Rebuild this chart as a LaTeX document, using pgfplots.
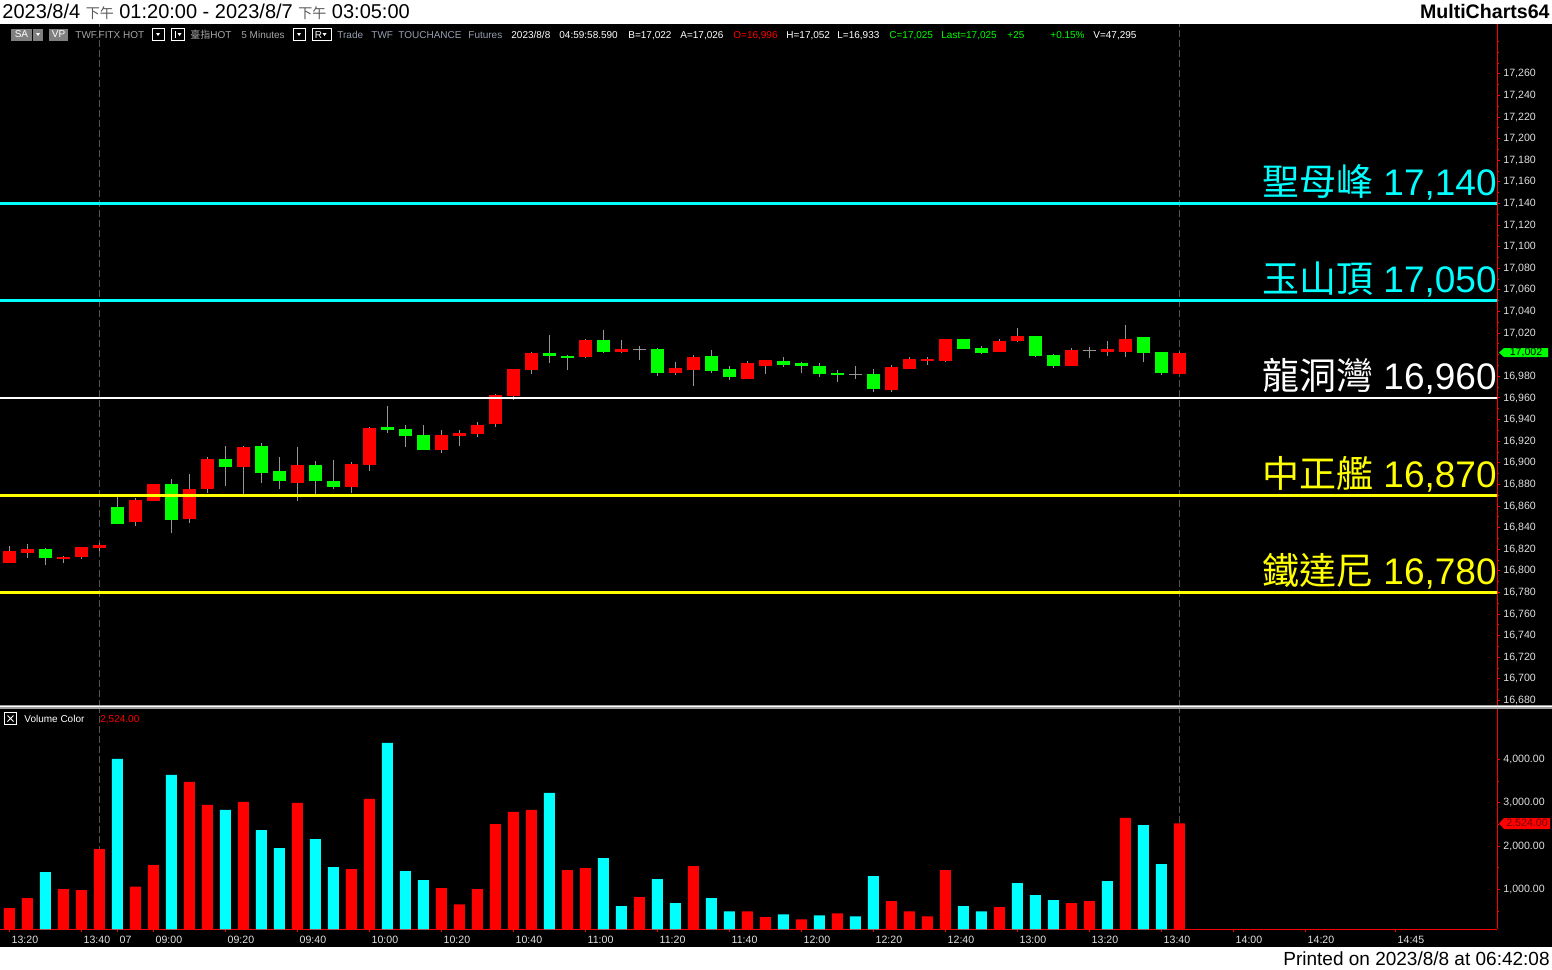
\documentclass[border=0pt]{standalone}
\usepackage{fontspec}
\setmainfont{Liberation Sans}
\newfontfamily\cjk{Noto Sans CJK TC}
\usepackage{pgfplots}
\pgfplotsset{compat=1.18}
\usepackage{pgfplotstable}

\definecolor{upc}{RGB}{255,0,0}
\definecolor{dnc}{RGB}{0,255,0}
\definecolor{vcy}{RGB}{0,255,255}
\definecolor{wick}{RGB}{150,150,150}
\definecolor{lvly}{RGB}{255,255,0}
\definecolor{lbl}{RGB}{225,225,225}
\definecolor{tbgray}{RGB}{165,165,165}
\definecolor{tbblue}{RGB}{150,158,175}
\definecolor{sess}{RGB}{85,85,85}
\definecolor{hdrgray}{RGB}{90,90,90}

% 5-minute candles, x = bar number (0 = 8/4 13:20, 6 = 8/7 08:50)
\pgfplotstableread{
x o h l c
0 16807 16823 16807 16818
1 16817 16825 16812 16820
3 16811 16814 16807 16813
4 16813 16822 16811 16822
5 16821 16826 16818 16824
7 16845 16867 16842 16866
8 16865 16880 16865 16880
10 16848 16890 16844 16876
11 16876 16905 16872 16904
13 16896 16916 16871 16915
16 16881 16915 16865 16898
19 16878 16901 16872 16899
20 16898 16933 16892 16932
24 16912 16930 16909 16926
25 16925 16930 16916 16928
26 16927 16938 16924 16935
27 16936 16964 16933 16963
28 16962 16987 16958 16987
29 16986 17003 16982 17002
32 16998 17015 16997 17014
34 17003 17014 17002 17005
37 16983 16993 16981 16988
38 16986 17000 16971 16998
41 16978 16994 16978 16992
42 16990 16995 16982 16995
49 16967 16991 16966 16989
50 16987 16998 16987 16996
51 16994 16998 16991 16996
52 16994 17015 16993 17015
55 17003 17015 17003 17013
56 17013 17025 17012 17017
59 16990 17006 16990 17004
61 17003 17013 16999 17005
62 17003 17028 16998 17015
65 16982 17003 16982 17002
}\upbars

\pgfplotstableread{
x o h l c
2 16820 16821 16805 16812
6 16859 16869 16843 16843
9 16880 16885 16835 16847
12 16904 16916 16879 16896
14 16916 16918 16881 16891
15 16892 16905 16876 16883
17 16898 16902 16871 16883
18 16883 16903 16876 16878
21 16933 16953 16928 16930
22 16931 16935 16915 16925
23 16926 16935 16912 16912
30 17002 17018 16992 16999
31 16999 17000 16986 16997
33 17014 17023 17002 17003
36 17005 17006 16980 16983
39 16999 17004 16983 16985
40 16987 16990 16977 16979
43 16994 16998 16989 16991
44 16992 16993 16983 16990
45 16990 16992 16979 16982
46 16983 16986 16975 16981
48 16982 16987 16966 16968
53 17015 17015 17005 17005
54 17006 17008 17001 17002
57 17017 17017 16998 16999
58 17000 17001 16988 16990
63 17016 17016 16993 17002
64 17003 17003 16981 16983
}\dnbars

\pgfplotstableread{
x p h l
35 17005 17008 16995
47 16982 16990 16978
60 17004 17007 16997
}\dojibars

\pgfplotstableread{
x v
0 565
1 796
3 1005
4 981
5 1930
7 1066
8 1560
10 3481
11 2949
13 3018
16 2995
19 1467
20 3087
24 1028
25 657
26 1005
27 2509
28 2787
29 2833
31 1444
32 1491
35 819
38 1537
41 495
42 357
44 310
46 449
49 727
50 495
51 380
52 1444
55 588
59 681
60 727
62 2648
65 2524
}\volred

\pgfplotstableread{
x v
2 1398
6 4013
9 3643
12 2833
14 2370
15 1953
17 2162
18 1514
21 4383
22 1421
23 1213
30 3226
33 1722
34 611
36 1236
37 681
39 796
40 495
43 426
45 403
47 380
48 1305
53 611
54 495
56 1143
57 866
58 750
61 1190
63 2486
64 1583
}\volcyan

\pgfplotsset{
  mc/.style={
    scale only axis, width=748.5pt,
    xmin=-0.517, xmax=82.65,
    axis line style={upc, line width=0.5pt},
    tick style={upc, line width=0.5pt},
    tick align=outside, major tick length=1.5pt, minor tick length=1pt,
    ticklabel style={text=lbl, font=\fontsize{5.3}{6}\selectfont},
    /pgf/number format/assume math mode=true,
    scaled y ticks=false,
  },
  wickplot/.style={forget plot, mark=none, draw=wick, line width=0.5pt, line cap=butt,
    quiver={u=0, v=\thisrow{h}-\thisrow{l}}},
  bodyplot/.style={forget plot, mark=none, draw=#1, line width=6.5pt, line cap=butt,
    quiver={u=0, v=\thisrow{c}-\thisrow{o}}},
}

\newcommand\lvl[3]{%
  \node[anchor=base east, inner sep=0pt, text=#1, yshift=4pt,
    font=\fontsize{18.5}{20}\selectfont] at (axis cs:82.65,#2) {{\cjk #3} \pgfmathprintnumber[fixed,1000 sep={,}]{#2}};}

\begin{document}
\begin{tikzpicture}
\fill[black] (0,0) rectangle (776pt,-484.5pt);

% price panel
\begin{axis}[mc, at={(0pt,-12pt)}, anchor=north west, height=340.5pt,
  ymin=16675.9, ymax=17306.1,
  axis x line=none, axis y line*=right, xtick=\empty,
  ytick={16680,16700,16720,16740,16760,16780,16800,16820,16840,16860,16880,16900,16920,16940,16960,16980,17020,17040,17060,17080,17100,17120,17140,17160,17180,17200,17220,17240,17260},
  minor ytick={16690,16710,16730,16750,16770,16790,16810,16830,16850,16870,16890,16910,16930,16950,16970,16990,17000,17010,17030,17050,17070,17090,17110,17130,17150,17170,17190,17210,17230,17250,17270,17280,17290},
  yticklabel style={anchor=west, inner sep=0pt, xshift=1.5pt,
    /pgf/number format/.cd, fixed, precision=0, 1000 sep={,}},
]
\addplot[sess, line width=0.5pt, dash pattern=on 3.5pt off 1.5pt] coordinates {(5,16600) (5,17400)};
\addplot[sess, line width=0.5pt, dash pattern=on 3.5pt off 1.5pt] coordinates {(65,16600) (65,17400)};

\addplot[wickplot] table[x=x, y=l] {\upbars};
\addplot[wickplot] table[x=x, y=l] {\dnbars};
\addplot[wickplot] table[x=x, y=l] {\dojibars};
\addplot[bodyplot=upc] table[x=x, y=o] {\upbars};
\addplot[bodyplot=dnc] table[x=x, y=o] {\dnbars};
\addplot[forget plot, mark=none, draw=wick, line width=0.5pt, line cap=butt,
  quiver={u=0.72, v=0}] table[x expr=\thisrow{x}-0.36, y=p] {\dojibars};

% support / resistance levels
\addplot[vcy, line width=1.3pt] coordinates {(-1,17140) (84,17140)};
\addplot[vcy, line width=1.3pt] coordinates {(-1,17050) (84,17050)};
\addplot[white, line width=1.3pt] coordinates {(-1,16960) (84,16960)};
\addplot[lvly, line width=1.3pt] coordinates {(-1,16870) (84,16870)};
\addplot[lvly, line width=1.3pt] coordinates {(-1,16780) (84,16780)};
\lvl{vcy}{17140}{聖母峰}
\lvl{vcy}{17050}{玉山頂}
\lvl{white}{16960}{龍洞灣}
\lvl{lvly}{16870}{中正艦}
\lvl{lvly}{16780}{鐵達尼}
\end{axis}

% volume panel
\begin{axis}[mc, at={(0pt,-354pt)}, anchor=north west, height=110.65pt,
  ymin=78.5, ymax=5186,
  axis x line*=bottom, axis y line*=right,
  xtick={0,4,6,8,12,16,20,24,28,32,36,40,44,48,52,56,60,64,68,72,77},
  xticklabels={13:20,13:40,07,09:00,09:20,09:40,10:00,10:20,10:40,11:00,11:20,11:40,12:00,12:20,12:40,13:00,13:20,13:40,14:00,14:20,14:45},
  xticklabel style={anchor=north west, inner sep=0pt, xshift=1pt, yshift=-1.5pt},
  ytick={1000,2000,3000,4000}, minor ytick={500,1500,2500,3500},
  yticklabel style={anchor=west, inner sep=0pt, xshift=1.5pt,
    /pgf/number format/.cd, fixed, fixed zerofill, precision=2, 1000 sep={,}},
]
\addplot[sess, line width=0.5pt, dash pattern=on 3.5pt off 1.5pt] coordinates {(5,0) (5,6000)};
\addplot[sess, line width=0.5pt, dash pattern=on 3.5pt off 1.5pt] coordinates {(65,0) (65,6000)};
\addplot[ybar, bar width=5.5pt, bar shift=0pt, fill=upc, draw=none] table[x=x, y=v] {\volred};
\addplot[ybar, bar width=5.5pt, bar shift=0pt, fill=vcy, draw=none] table[x=x, y=v] {\volcyan};
\end{axis}

% chrome: header, toolbar, separator, tags, footer (px units, y down)
\begin{scope}[x=0.5pt, y=-0.5pt]
\fill[white] (0,0) rectangle (1552,23.5);
\node[anchor=base west, inner sep=0pt, font=\fontsize{10}{11}\selectfont] at (2,18.5)
  {2023/8/4 {\cjk\fontsize{7}{8}\selectfont\color{hdrgray}下午} 01:20:00 - 2023/8/7 {\cjk\fontsize{7}{8}\selectfont\color{hdrgray}下午} 03:05:00};
\node[anchor=base east, inner sep=0pt, font=\bfseries\fontsize{9.8}{11}\selectfont] at (1550,18.5) {MultiCharts64};

\begin{scope}[font=\fontsize{5}{6}\selectfont]
\fill[gray] (11,28.5) rectangle (32,40.5);
\node[white, inner sep=0pt] at (21.5,34.5) {SA};
\fill[gray] (33,28.5) rectangle (43,40.5);
\fill[white] (36,33) -- (40,33) -- (38,36) -- cycle;
\fill[gray] (49,28.5) rectangle (68,40.5);
\node[white, inner sep=0pt] at (58.5,34.5) {VP};
\node[anchor=base west, inner sep=0pt, text=tbgray] at (75,38.5) {TWF.FITX HOT};
\draw[white, line width=0.5pt] (152,28.5) rectangle (164,40.5);
\fill[white] (156,33) -- (160,33) -- (158,36) -- cycle;
\draw[white, line width=0.5pt] (171,28.5) rectangle (184,40.5);
\draw[white, line width=0.5pt] (175,31) -- (175,38);
\fill[white] (177.5,33) -- (181.5,33) -- (179.5,36) -- cycle;
\node[anchor=base west, inner sep=0pt, text=tbgray] at (190,38.5) {{\cjk 臺指}HOT};
\node[anchor=base west, inner sep=0pt, text=tbgray] at (241,38.5) {5 Minutes};
\draw[white, line width=0.5pt] (293,28.5) rectangle (305,40.5);
\fill[white] (297,33) -- (301,33) -- (299,36) -- cycle;
\draw[white, line width=0.5pt] (312,28.5) rectangle (331,40.5);
\node[anchor=base west, inner sep=0pt, text=white] at (314.5,38.5) {R};
\fill[white] (322.5,33) -- (326.5,33) -- (324.5,36) -- cycle;
\node[anchor=base west, inner sep=0pt, text=tbblue] at (337,38.5) {Trade};
\node[anchor=base west, inner sep=0pt, text=tbblue] at (371,38.5) {TWF};
\node[anchor=base west, inner sep=0pt, text=tbblue] at (398,38.5) {TOUCHANCE};
\node[anchor=base west, inner sep=0pt, text=tbblue] at (468,38.5) {Futures};
\node[anchor=base west, inner sep=0pt, text=white] at (511,38.5) {2023/8/8};
\node[anchor=base west, inner sep=0pt, text=white] at (559,38.5) {04:59:58.590};
\node[anchor=base west, inner sep=0pt, text=white] at (628,38.5) {B=17,022};
\node[anchor=base west, inner sep=0pt, text=white] at (680,38.5) {A=17,026};
\node[anchor=base west, inner sep=0pt, text=upc] at (733,38.5) {O=16,996};
\node[anchor=base west, inner sep=0pt, text=white] at (786,38.5) {H=17,052};
\node[anchor=base west, inner sep=0pt, text=white] at (837,38.5) {L=16,933};
\node[anchor=base west, inner sep=0pt, text=dnc] at (889,38.5) {C=17,025};
\node[anchor=base west, inner sep=0pt, text=dnc] at (941,38.5) {Last=17,025};
\node[anchor=base west, inner sep=0pt, text=dnc] at (1007,38.5) {+25};
\node[anchor=base west, inner sep=0pt, text=dnc] at (1050,38.5) {+0.15\%};
\node[anchor=base west, inner sep=0pt, text=white] at (1093,38.5) {V=47,295};

% volume panel caption
\draw[white, line width=0.5pt] (4.5,712.5) rectangle (16.5,724.5);
\draw[white, line width=0.5pt] (7.5,715.5) -- (13.5,721.5) (13.5,715.5) -- (7.5,721.5);
\node[anchor=base west, inner sep=0pt, text=white] at (24,722) {Volume Color};
\node[anchor=base west, inner sep=0pt, text=upc] at (100,722) {2,524.00};
\end{scope}

\fill[gray!75] (0,705) rectangle (1552,708.5);
\draw[white, line width=0.5pt] (0,706.7) -- (1552,706.7);

% last-value tags on the scales
\fill[dnc] (1499,352.6) -- (1504,348) -- (1548,348) -- (1548,357.2) -- (1504,357.2) -- cycle;
\node[inner sep=0pt, font=\fontsize{5.3}{6}\selectfont] at (1526,352.8) {17,002};
\fill[upc] (1499,823.4) -- (1504,818) -- (1550,818) -- (1550,829) -- (1504,829) -- cycle;
\node[inner sep=0pt, text={rgb,255:red,110;green,0;blue,0}, font=\fontsize{5.3}{6}\selectfont] at (1527,823.6) {2,524.00};

\fill[white] (0,947) rectangle (1552,969);
\node[anchor=base east, inner sep=0pt, font=\fontsize{9.5}{11}\selectfont] at (1550,965) {Printed on 2023/8/8 at 06:42:08};
\end{scope}

\pgfresetboundingbox
\useasboundingbox (0,0) rectangle (776pt,-484.5pt);
\end{tikzpicture}
\end{document}
